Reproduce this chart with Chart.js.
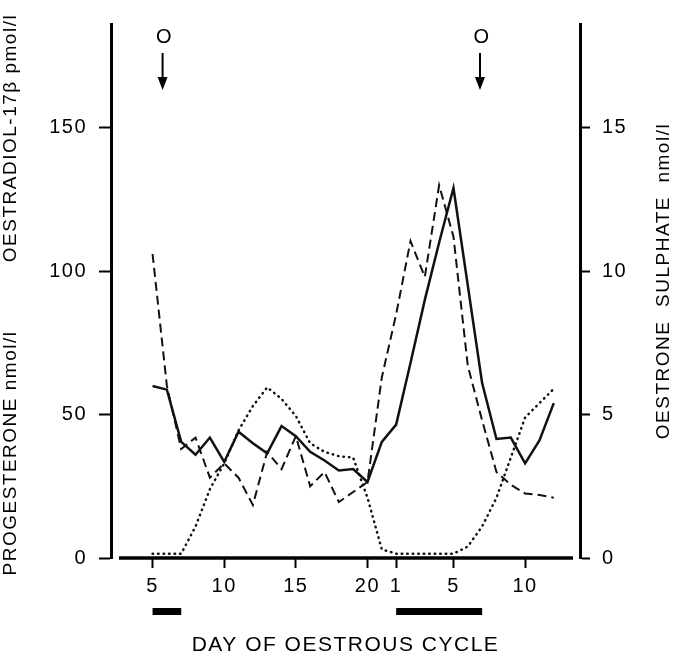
<!DOCTYPE html>
<html>
<head>
<meta charset="utf-8">
<script src="https://cdn.jsdelivr.net/npm/chart.js@4.4.1/dist/chart.umd.min.js"></script>
<style>
  html, body { margin: 0; padding: 0; background: #fff; }
  canvas { display: block; }
</style>
</head>
<body>
<canvas id="chart" width="677" height="661"></canvas>
<script>
// running day number from the start of the record (22 = day 1 of the next cycle)
const seqDay = [5, 6, 7, 8, 9, 10, 11, 12, 13, 14, 15, 16, 17, 18, 19, 20, 21,
  22, 23, 24, 25, 26, 27, 28, 29, 30, 31, 32, 33];
const cycleDay = [5, 6, 7, 8, 9, 10, 11, 12, 13, 14, 15, 16, 17, 18, 19, 20, 21,
  1, 2, 3, 4, 5, 6, 7, 8, 9, 10, 11, 12];

// progesterone nmol/l (dotted, left axis)
const progesterone = [1.5, 1.5, 1.5, 11, 24, 33, 44.5, 53, 59.5, 55.5, 49.5, 40, 37, 35.5, 35, 21, 3,
  1.5, 1.5, 1.5, 1.5, 1.5, 4, 11, 21, 35, 49, 54, 59];
// oestradiol-17b pmol/l (dashed, left axis)
const oestradiol = [106, 60, 38, 42, 28, 33, 28, 18.5, 37, 31, 42.5, 25, 30, 19.5, 23, 26.5, 63,
  85, 110.5, 98, 130, 112, 67, 48, 30, 25.5, 22.5, 22, 21];
// oestrone sulphate nmol/l (solid, right axis)
const oestroneSulphate = [6.0, 5.87, 4.05, 3.6, 4.2, 3.35, 4.4, 4.0, 3.65, 4.6, 4.25, 3.7, 3.4, 3.05, 3.1, 2.65, 4.05,
  4.65, 6.8, 9.0, 11.0, 12.9, 9.5, 6.1, 4.15, 4.2, 3.3, 4.1, 5.4];

const xTickDays = [5, 10, 15, 20, 22, 26, 31];
const leftTicks = [0, 50, 100, 150];
const rightTicks = [0, 5, 10, 15];

// ovulation (O arrows) and oestrus periods (black bars under the axis)
const ovulationDays = [5.7, 27.85];
const oestrusSpans = [[5, 7], [22, 28]];

const FONT = "'Liberation Sans', Arial, sans-serif";
Chart.defaults.font.family = FONT;
Chart.defaults.font.size = 20;
Chart.defaults.color = "#000";

const toPoints = (vals) => seqDay.map((d, i) => ({ x: d, y: vals[i] }));

const extras = {
  id: "extras",
  beforeDraw(chart) {
    chart.ctx.letterSpacing = "1.5px";
  },
  afterDraw(chart) {
    const { ctx, chartArea: a } = chart;
    const x = chart.scales.x;
    ctx.save();
    ctx.fillStyle = "#000";
    ctx.strokeStyle = "#000";

    // x axis line (stops short of the vertical axes)
    ctx.lineWidth = 3.5;
    ctx.beginPath();
    ctx.moveTo(a.left + 8, a.bottom);
    ctx.lineTo(a.right - 7, a.bottom);
    ctx.stroke();

    // oestrus bars
    oestrusSpans.forEach(([s, e]) => {
      const x1 = x.getPixelForValue(s);
      const x2 = x.getPixelForValue(e);
      ctx.fillRect(x1, a.bottom + 50, x2 - x1, 7);
    });

    // ovulation arrows
    ctx.font = "20px " + FONT;
    ctx.textAlign = "center";
    ctx.textBaseline = "middle";
    ovulationDays.forEach((d) => {
      const px = x.getPixelForValue(d);
      ctx.fillText("O", px + 2, a.top + 13);
      ctx.lineWidth = 2;
      ctx.beginPath();
      ctx.moveTo(px, a.top + 29);
      ctx.lineTo(px, a.top + 56);
      ctx.stroke();
      ctx.beginPath();
      ctx.moveTo(px - 5, a.top + 53);
      ctx.lineTo(px + 5, a.top + 53);
      ctx.lineTo(px, a.top + 66);
      ctx.closePath();
      ctx.fill();
    });

    // rotated axis titles
    const vtext = (txt, cx, cy) => {
      ctx.save();
      ctx.translate(cx, cy);
      ctx.rotate(-Math.PI / 2);
      ctx.fillText(txt, 0, 0);
      ctx.restore();
    };
    ctx.font = "19px " + FONT;
    vtext("PROGESTERONE nmol/l", 11, 453);
    vtext("OESTRADIOL-17\u03B2 pmol/l", 11, 138);
    vtext("OESTRONE  SULPHATE  nmol/l", 664, 281);
    ctx.restore();
  }
};

const tickGrid = (len) => ({
  drawOnChartArea: false,
  drawTicks: true,
  tickLength: len,
  tickWidth: 2,
  tickColor: "#000"
});

new Chart(document.getElementById("chart"), {
  type: "line",
  data: {
    datasets: [
      {
        label: "Progesterone",
        data: toPoints(progesterone),
        yAxisID: "y",
        borderColor: "#111",
        borderWidth: 2.5,
        borderDash: [0.5, 5],
        borderCapStyle: "round",
        pointRadius: 0,
        tension: 0
      },
      {
        label: "Oestradiol-17\u03B2",
        data: toPoints(oestradiol),
        yAxisID: "y",
        borderColor: "#111",
        borderWidth: 2,
        borderDash: [9, 5],
        pointRadius: 0,
        tension: 0
      },
      {
        label: "Oestrone sulphate",
        data: toPoints(oestroneSulphate),
        yAxisID: "y2",
        borderColor: "#111",
        borderWidth: 2.5,
        pointRadius: 0,
        tension: 0
      }
    ]
  },
  options: {
    responsive: false,
    animation: false,
    layout: { padding: { top: 23 } },
    plugins: {
      legend: { display: false },
      tooltip: { enabled: false }
    },
    scales: {
      x: {
        type: "linear",
        min: 2.1,
        max: 34.83,
        afterFit: (s) => { s.height = 103; },
        afterBuildTicks: (s) => { s.ticks = xTickDays.map((v) => ({ value: v })); },
        ticks: {
          padding: 6,
          maxRotation: 0,
          callback: (v) => cycleDay[seqDay.indexOf(v)]
        },
        grid: tickGrid(10),
        border: { display: false },
        title: {
          display: true,
          text: "DAY OF OESTROUS CYCLE",
          font: { size: 21 },
          padding: { top: 0, bottom: 3 }
        }
      },
      y: {
        position: "left",
        min: 0,
        max: 186.2,
        afterFit: (s) => { s.width = 111; },
        afterBuildTicks: (s) => { s.ticks = leftTicks.map((v) => ({ value: v })); },
        ticks: { padding: 12 },
        grid: tickGrid(12),
        border: { display: true, color: "#000", width: 3 }
      },
      y2: {
        position: "right",
        min: 0,
        max: 18.62,
        afterFit: (s) => { s.width = 97; },
        afterBuildTicks: (s) => { s.ticks = rightTicks.map((v) => ({ value: v })); },
        ticks: { padding: 12 },
        grid: tickGrid(10),
        border: { display: true, color: "#000", width: 3 }
      }
    }
  },
  plugins: [extras]
});
</script>
</body>
</html>
